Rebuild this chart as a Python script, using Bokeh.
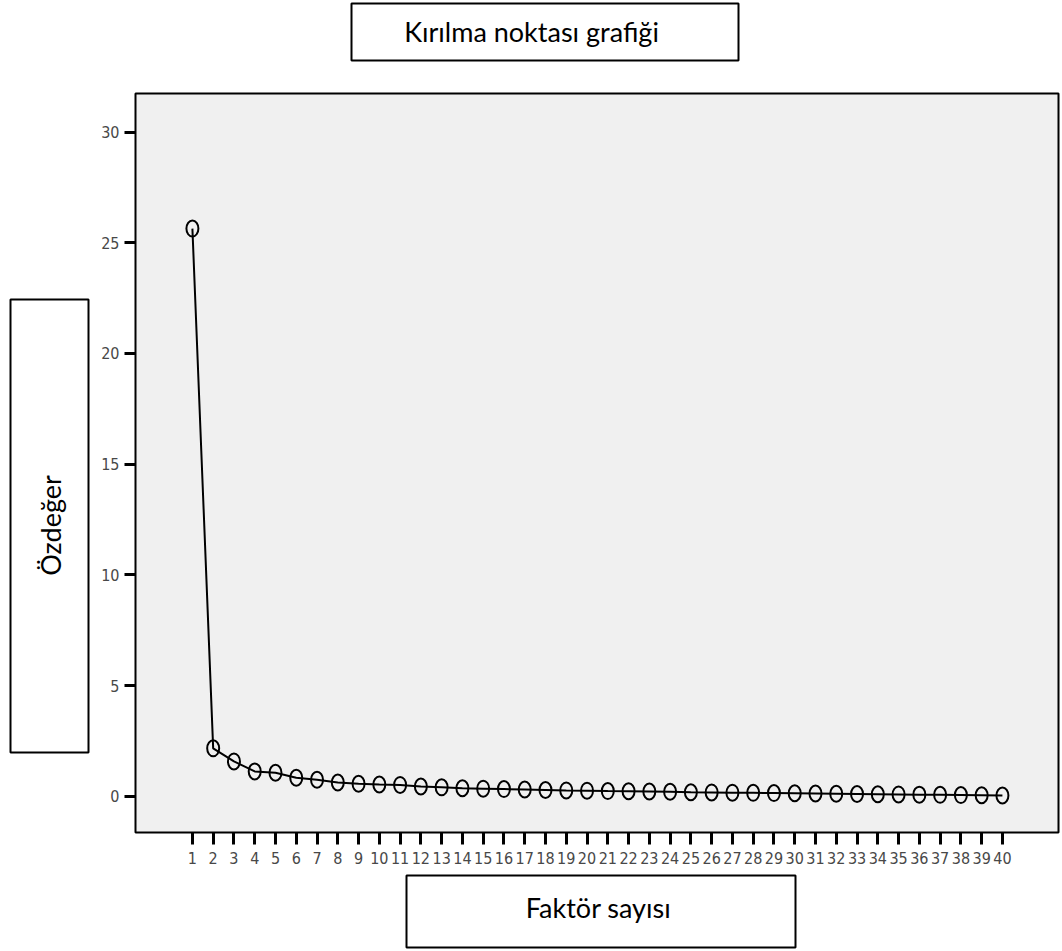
import math
from bokeh.plotting import figure
from bokeh.layouts import column, row
from bokeh.models import FixedTicker, Range1d
from bokeh.core.properties import value
from bokeh.embed import file_html
from bokeh.resources import INLINE

# ---- data ----
factors = list(range(1, 41))
eigenvalues = [25.64, 2.17, 1.58, 1.13, 1.07, 0.84, 0.75, 0.63, 0.57, 0.54,
               0.52, 0.45, 0.41, 0.37, 0.35, 0.33, 0.31, 0.29, 0.27, 0.26,
               0.24, 0.23, 0.22, 0.21, 0.19, 0.18, 0.17, 0.16, 0.15, 0.14,
               0.13, 0.12, 0.11, 0.10, 0.09, 0.08, 0.07, 0.06, 0.05, 0.04]
y_ticks = [0, 5, 10, 15, 20, 25, 30]
title_text = "Kırılma noktası grafiği"
y_label_text = "Özdeğer"
x_label_text = "Faktör sayısı"

# ---- layout (pixels) ----
W = 1062
TOP_H, MID_H, BOT_H = 91, 779, 81
LEFT_W = 98
MAIN_W = W - LEFT_W
B_TOP, B_BOT = 2, 38          # main frame borders inside the middle row
X0, X1 = -1.74, 42.7
Y0, Y1 = -1.63, 31.74

box_font = "Lato"
tick_font = "'Liberation Sans Narrow', 'DejaVu Sans Condensed', 'Arial Narrow', sans-serif"


def panel_fig(w, h, y_lo, y_hi, bt=0, bb=0):
    # data y = -(page y) so that boxes are placed in page pixels
    f = figure(width=w, height=h, x_range=Range1d(0, w), y_range=Range1d(-y_hi, -y_lo),
               output_backend="svg", toolbar_location=None,
               x_axis_type=None, y_axis_type=None, min_border=0)
    f.min_border_top = bt
    f.min_border_bottom = bb
    f.grid.visible = False
    f.outline_line_color = None
    f.background_fill_color = "white"
    f.border_fill_color = "white"
    return f


def add_box(f, l, r, t, b, txt, cx, cy, angle=0.0):
    f.quad(left=[l], right=[r], top=[-t], bottom=[-b],
           fill_color="white", line_color="black", line_width=2)
    f.text(x=[cx], y=[-cy], text=[txt], text_font=value(box_font),
           text_font_size="27px", text_color="black",
           text_align="center", text_baseline="middle", angle=angle)


# title box (page y 0..91)
top = panel_fig(W, TOP_H, 0, TOP_H)
add_box(top, 351, 738, 3, 60, title_text, 531, 31)

# y label box (frame aligned with main frame: page y 93..832)
left = panel_fig(LEFT_W, MID_H, TOP_H + B_TOP, TOP_H + MID_H - B_BOT, bt=B_TOP, bb=B_BOT)
add_box(left, 10, 88, 299, 752, y_label_text, 50, 525, angle=math.pi / 2)

# x label box (page y 870..951)
bottom = panel_fig(W, BOT_H, TOP_H + MID_H, TOP_H + MID_H + BOT_H)
add_box(bottom, 406, 795, 875, 947, x_label_text, 598, 907)

# main chart
p = figure(width=MAIN_W, height=MID_H, output_backend="svg", toolbar_location=None,
           x_range=Range1d(X0, X1), y_range=Range1d(Y0, Y1),
           min_border_left=35, min_border_right=4,
           min_border_top=B_TOP, min_border_bottom=B_BOT)
p.background_fill_color = "#f0f0f0"
p.border_fill_color = "white"
p.outline_line_color = "black"
p.outline_line_width = 2
p.xgrid.visible = False
p.ygrid.visible = False

for ax in (p.xaxis[0], p.yaxis[0]):
    ax.axis_line_color = None
    ax.major_tick_line_color = "black"
    ax.major_tick_line_width = 3
    ax.major_tick_in = 0
    ax.minor_tick_line_color = None
    ax.major_label_text_font = tick_font
    ax.major_label_text_font_size = "16px"
    ax.major_label_text_color = "#484848"

p.xaxis.ticker = FixedTicker(ticks=factors)
p.xaxis.major_tick_out = 12
p.xaxis.major_label_standoff = 7
p.yaxis.ticker = FixedTicker(ticks=y_ticks)
p.yaxis.major_tick_out = 11
p.yaxis.major_label_standoff = 5

p.line(factors, eigenvalues, line_color="black", line_width=2)
p.ellipse(factors, eigenvalues, width=12, height=16,
          width_units="screen", height_units="screen",
          fill_color=None, line_color="black", line_width=2)

layout = column(top, row(left, p, spacing=0), bottom, spacing=0)

open("out.html", "w").write(file_html(layout, INLINE))
